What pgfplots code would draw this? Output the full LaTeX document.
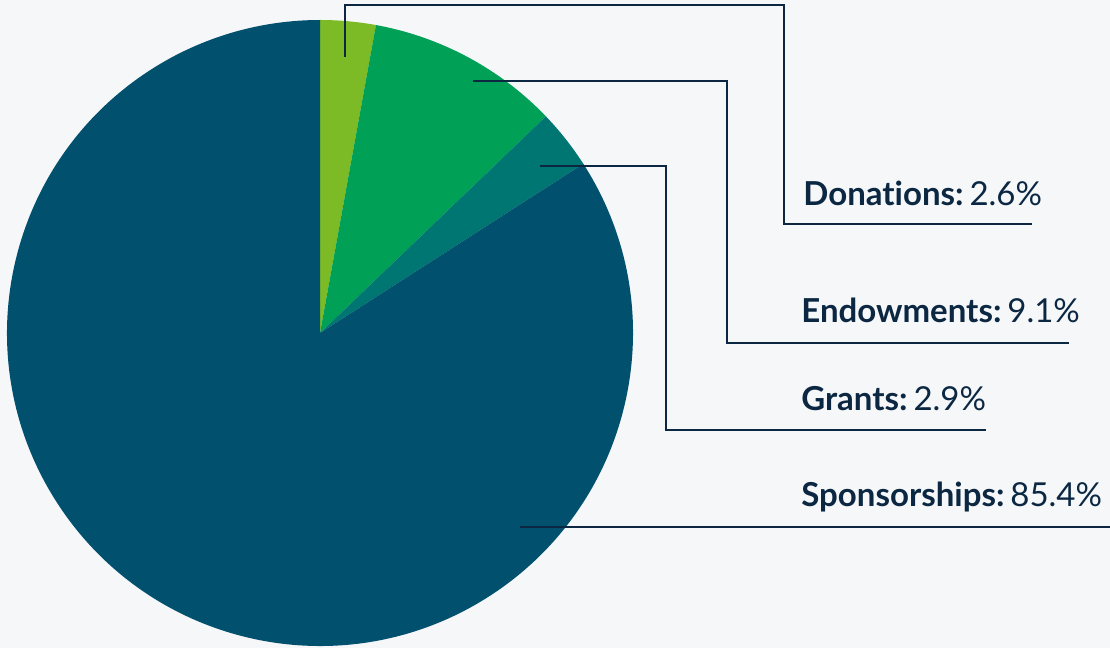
\documentclass[border=0pt]{standalone}
\usepackage{pgfplots}
\pgfplotsset{compat=1.18}
\usepackage{fontspec}
\setmainfont{Lato}[Ligatures=NoCommon]

\definecolor{bg}{HTML}{F5F7F9}
\definecolor{cDon}{HTML}{7CBB26}
\definecolor{cEnd}{HTML}{00A057}
\definecolor{cGra}{HTML}{007672}
\definecolor{cSpo}{HTML}{00506E}
\definecolor{ink}{HTML}{0B2742}

% slice sizes as drawn (percent of the full circle)
\def\pDon{2.86}
\def\pEnd{9.97}
\def\pGra{3.08}
\def\pSpo{84.09}
\pgfmathsetmacro\aA{90}
\pgfmathsetmacro\aB{\aA-3.6*\pDon}
\pgfmathsetmacro\aC{\aB-3.6*\pEnd}
\pgfmathsetmacro\aD{\aC-3.6*\pGra}
\pgfmathsetmacro\aE{\aD-3.6*\pSpo}
\def\R{156.5pt}

\begin{document}
\begin{tikzpicture}
\begin{axis}[
    x=0.5pt, y=0.5pt,
    xmin=0, xmax=1110, ymin=0, ymax=648,
    hide axis, clip=false,
    scale only axis,
]
\fill[bg] (axis cs:0,0) rectangle (axis cs:1110,648);

\fill[cDon] (axis cs:320,315) -- ++(\aA:\R) arc[start angle=\aA, end angle=\aB, radius=\R] -- cycle;
\fill[cEnd] (axis cs:320,315) -- ++(\aB:\R) arc[start angle=\aB, end angle=\aC, radius=\R] -- cycle;
\fill[cGra] (axis cs:320,315) -- ++(\aC:\R) arc[start angle=\aC, end angle=\aD, radius=\R] -- cycle;
\fill[cSpo] (axis cs:320,315) -- ++(\aD:\R) arc[start angle=\aD, end angle=\aE, radius=\R] -- cycle;

% leader lines
\draw[ink, line width=1.4pt] (axis cs:345,591) -- (axis cs:345,643) -- (axis cs:784,643) -- (axis cs:784,424) -- (axis cs:1032,424);
\draw[ink, line width=1.4pt] (axis cs:473,567) -- (axis cs:727,567) -- (axis cs:727,305) -- (axis cs:1069,305);
\draw[ink, line width=1.4pt] (axis cs:540,482) -- (axis cs:666,482) -- (axis cs:666,218) -- (axis cs:986,218);
\draw[ink, line width=1.4pt] (axis cs:520,121) -- (axis cs:1110,121);

% labels
\tikzset{lab/.style={anchor=base west, inner sep=0pt, text=ink, font=\fontsize{16.5}{18}\selectfont}}
\node[lab] at (axis cs:803,442) {\textbf{Donations:}\hspace{0.18em}2.6\%};
\node[lab] at (axis cs:801,325) {\textbf{Endowments:}\hspace{0.18em}9.1\%};
\node[lab] at (axis cs:801,237) {\textbf{Grants:}\hspace{0.18em}2.9\%};
\node[lab] at (axis cs:801,141) {\textbf{Sponsorships:}\hspace{0.18em}85.4\%};
\end{axis}
\pgfresetboundingbox
\path[use as bounding box] (current axis.south west) rectangle (current axis.north east);
\end{tikzpicture}
\end{document}
